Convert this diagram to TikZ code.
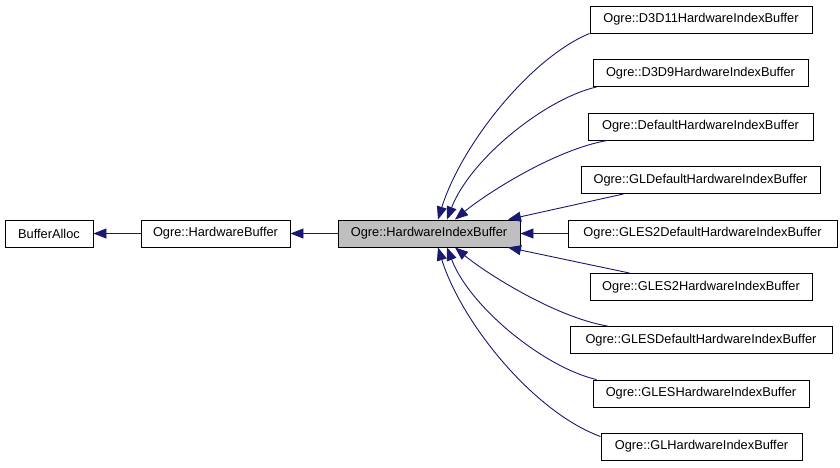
\documentclass[tikz,border=0pt]{standalone}
\usepackage{fontspec}
\setmainfont{Liberation Sans}
\usetikzlibrary{arrows.meta}
\definecolor{edgeblue}{HTML}{191970}
\definecolor{boxgray}{HTML}{BFBFBF}
\begin{document}
\begin{tikzpicture}[x=1pt,y=-1pt,
  cls/.style={draw=black,line width=0.9pt,fill=white,minimum height=27pt,inner sep=0pt,font=\fontsize{12.8}{14}\selectfont},
  edge/.style={draw=edgeblue,line width=0.9pt,-{Triangle[length=13pt,width=10pt]}}]
\useasboundingbox (0,0) rectangle (840,467);
% left chain
\node[cls,minimum width=88pt] (ba) at (49,233.5) {BufferAlloc};
\node[cls,minimum width=149pt] (hb) at (215.5,233.5) {Ogre::HardwareBuffer};
\node[cls,minimum width=182pt,fill=boxgray] (hib) at (429,233.5) {Ogre::HardwareIndexBuffer};
% right column
\node[cls,minimum width=222pt] (d3d11) at (701,19.5) {Ogre::D3D11HardwareIndexBuffer};
\node[cls,minimum width=215pt] (d3d9) at (700.5,73) {Ogre::D3D9HardwareIndexBuffer};
\node[cls,minimum width=225pt] (def) at (700.5,126.5) {Ogre::DefaultHardwareIndexBuffer};
\node[cls,minimum width=239pt] (gldef) at (700.5,180) {Ogre::GLDefaultHardwareIndexBuffer};
\node[cls,minimum width=269pt] (gles2def) at (702.5,233.5) {Ogre::GLES2DefaultHardwareIndexBuffer};
\node[cls,minimum width=222pt] (gles2) at (701,287) {Ogre::GLES2HardwareIndexBuffer};
\node[cls,minimum width=262pt] (glesdef) at (701,340) {Ogre::GLESDefaultHardwareIndexBuffer};
\node[cls,minimum width=216pt] (gles) at (701,393.5) {Ogre::GLESHardwareIndexBuffer};
\node[cls,minimum width=201pt] (gl) at (701.5,446.5) {Ogre::GLHardwareIndexBuffer};
% straight edges
\draw[edge] (hb) -- (ba);
\draw[edge] (hib) -- (hb);
\draw[edge] (gles2def) -- (hib);
% upper curves
\draw[edge] (d3d11.south west) .. controls +(-60,25) and +(23,-74) .. ([xshift=9pt]hib.north);
\draw[edge] ([xshift=4pt]d3d9.south west) .. controls +(-52,12) and +(23,-60) .. ([xshift=18pt]hib.north);
\draw[edge] ([xshift=20pt]def.south west) .. controls +(-53,9) and +(30,-25) .. ([xshift=26pt]hib.north);
\draw[edge] ([xshift=43pt]gldef.south west) -- ([xshift=79pt]hib.north);
% lower curves
\draw[edge] ([xshift=40pt]gles2.north west) -- ([xshift=79pt]hib.south);
\draw[edge] ([xshift=38pt]glesdef.north west) .. controls +(-53,-9) and +(30,25) .. ([xshift=26pt]hib.south);
\draw[edge] ([xshift=4pt]gles.north west) .. controls +(-52,-12) and +(23,60) .. ([xshift=18pt]hib.south);
\draw[edge] ([yshift=-4pt]gl.north west) .. controls +(-68,-25) and +(23,74) .. ([xshift=9pt]hib.south);
\end{tikzpicture}
\end{document}
